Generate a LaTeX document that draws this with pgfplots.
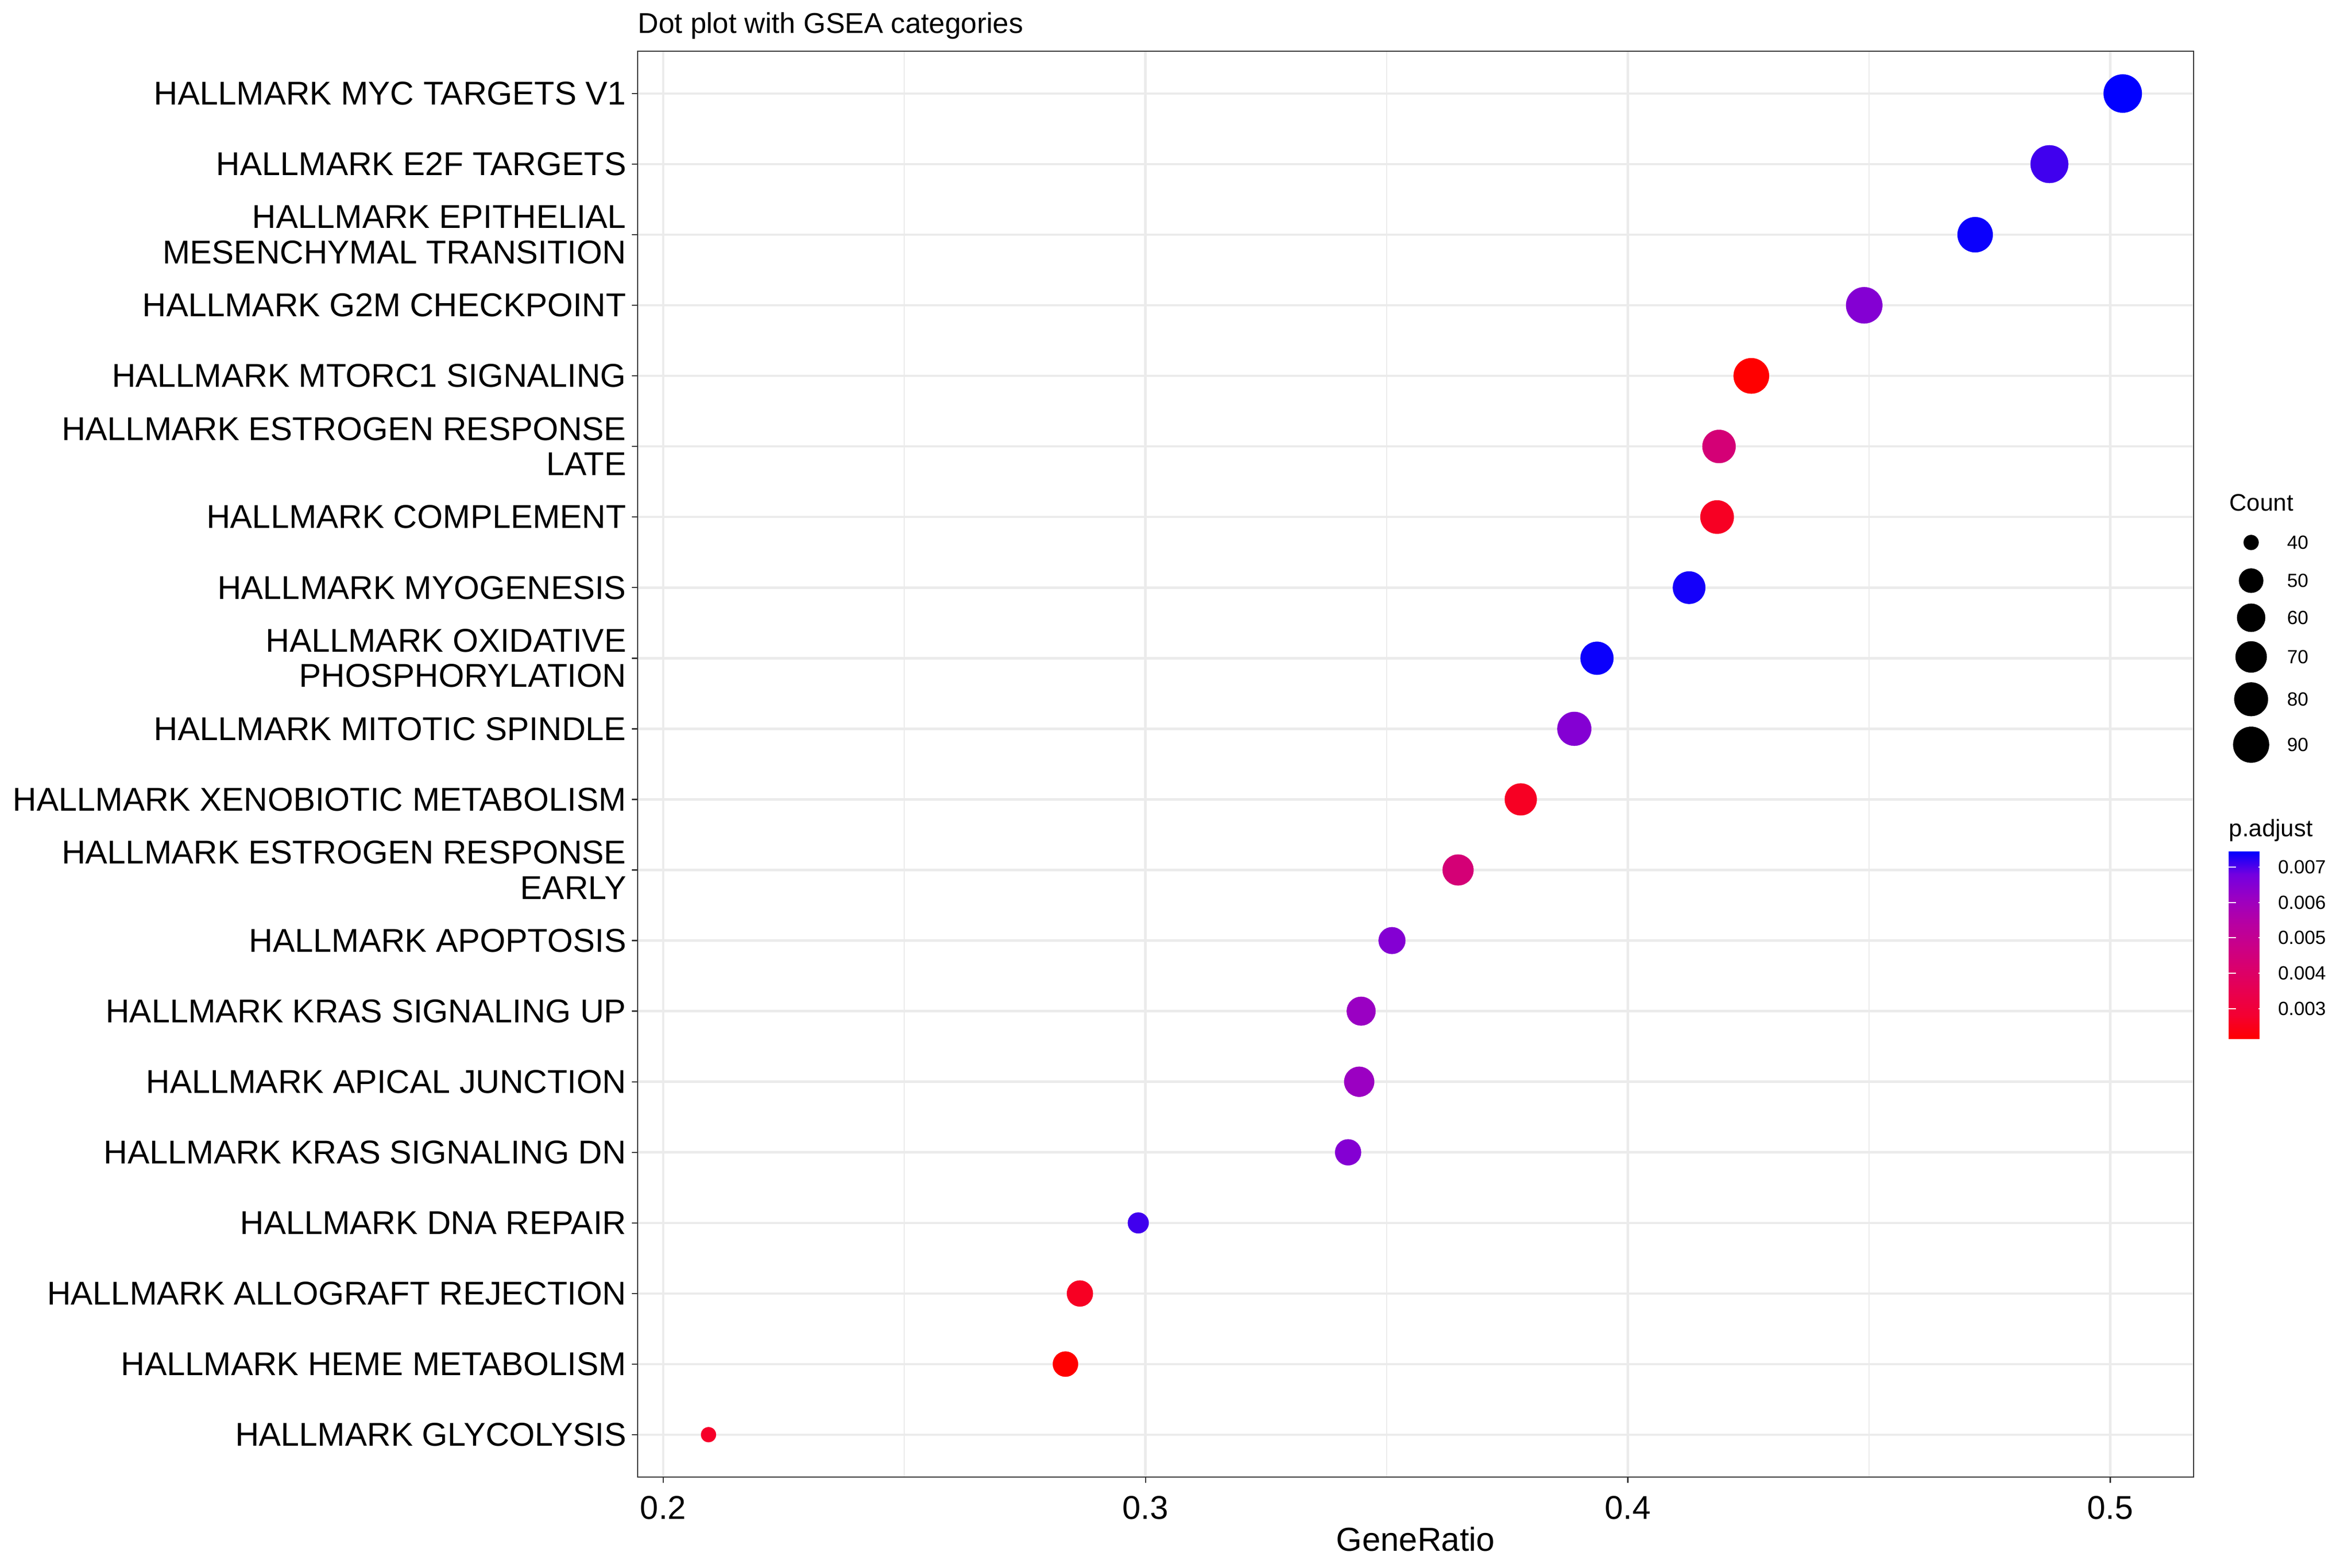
\documentclass[border=0pt]{standalone}
\usepackage{fontspec}
\setmainfont{Liberation Sans}
\usepackage{pgfplots}
\usepackage{pgfplotstable}
\pgfplotsset{compat=1.18}
\definecolor{tickgray}{HTML}{333333}
\definecolor{gridgray}{HTML}{EBEBEB}

\pgfplotstableread{
idx ratio count padj
20 0.5026 102 0.00746
19 0.4874 99 0.00709
18 0.4720 87 0.00740
17 0.4490 92 0.00650
16 0.4256 88 0.00214
15 0.4189 78 0.00437
14 0.4185 79 0.00262
13 0.4127 75 0.00735
12 0.3936 77 0.00740
11 0.3889 81 0.00650
10 0.3778 73 0.00262
9 0.3648 69 0.00437
8 0.3511 56 0.00650
7 0.3447 62 0.00613
6 0.3443 66 0.00610
5 0.3420 54 0.00650
4 0.2985 44 0.00709
3 0.2864 54 0.00262
2 0.2834 52 0.00214
1 0.2094 40 0.00270
}\gsea

\pgfplotstableread{
pos count
1038 40
1111 50
1182 60
1257 70
1338 80
1425 90
}\countlegend

\begin{document}
\begin{tikzpicture}
\useasboundingbox (-293.9pt,-41.9pt) rectangle (790.2pt,680.8pt);
\begin{axis}[
  name=main,
  at={(0,0)}, anchor=south west,
  scale only axis, width=717.2pt, height=657.2pt,
  xmin=0.1947, xmax=0.5173, ymin=0.4, ymax=20.6,
  xtick={0.2,0.3,0.4,0.5}, xticklabels={0.2,0.3,0.4,0.5},
  minor xtick={0.25,0.35,0.45},
  ytick={1,...,20},
  yticklabels={
    {HALLMARK GLYCOLYSIS},
    {HALLMARK HEME METABOLISM},
    {HALLMARK ALLOGRAFT REJECTION},
    {HALLMARK DNA REPAIR},
    {HALLMARK KRAS SIGNALING DN},
    {HALLMARK APICAL JUNCTION},
    {HALLMARK KRAS SIGNALING UP},
    {HALLMARK APOPTOSIS},
    {HALLMARK ESTROGEN RESPONSE\\EARLY},
    {HALLMARK XENOBIOTIC METABOLISM},
    {HALLMARK MITOTIC SPINDLE},
    {HALLMARK OXIDATIVE\\PHOSPHORYLATION},
    {HALLMARK MYOGENESIS},
    {HALLMARK COMPLEMENT},
    {HALLMARK ESTROGEN RESPONSE\\LATE},
    {HALLMARK MTORC1 SIGNALING},
    {HALLMARK G2M CHECKPOINT},
    {HALLMARK EPITHELIAL\\MESENCHYMAL TRANSITION},
    {HALLMARK E2F TARGETS},
    {HALLMARK MYC TARGETS V1}},
  xtick pos=bottom, ytick pos=left, tick align=outside,
  major tick length=2.75pt, minor tick length=0pt,
  tick style={color=tickgray, line width=0.55pt},
  axis line style={color=tickgray, line width=0.55pt},
  grid=both,
  major grid style={color=gridgray, line width=1.07pt},
  minor grid style={color=gridgray, line width=0.53pt},
  xticklabel style={font=\fontsize{15.2}{16}\selectfont, anchor=base, inner sep=0pt, yshift=-16.6pt},
  yticklabel style={font=\fontsize{15.2}{16.2}\selectfont, align=right, anchor=east, inner sep=0pt, xshift=-2.3pt},
  xlabel={GeneRatio},
  xlabel style={font=\fontsize{15.3}{18}\selectfont, at={(0.5,0)}, anchor=base, inner sep=0pt, yshift=-34pt},
  title={Dot plot with GSEA categories},
  title style={font=\fontsize{13.2}{15}\selectfont, at={(0,1)}, anchor=base west, inner sep=0pt, yshift=2.4pt},
  colormap={padj}{rgb255(0)=(255,0,0) rgb255(1)=(244,0,49) rgb255(2)=(232,0,79) rgb255(3)=(218,0,108) rgb255(4)=(201,0,137) rgb255(5)=(181,0,165) rgb255(6)=(154,0,195) rgb255(7)=(115,0,224) rgb255(8)=(0,0,255)},
  point meta min=0.00214, point meta max=0.00746,
  colorbar,
  colorbar style={
    at={(parent axis.north east)}, anchor=north west, xshift=7.6pt, yshift=-368.6pt,
    scale only axis, width=17.1pt, height=86.7pt,
    axis line style={draw=none},
    scaled y ticks=false,
    ytick={0.003,0.004,0.005,0.006,0.007},
    yticklabels={0.003,0.004,0.005,0.006,0.007},
    yticklabel pos=right, ytick pos=both,
    tick align=inside, major tick length=3.4pt,
    tick style={white, line width=0.5pt},
    yticklabel style={anchor=west, inner sep=0pt, xshift=5.5pt, font=\fontsize{8.8}{10}\selectfont, black},
    title={p.adjust},
    title style={at={(0,1)}, anchor=base west, inner sep=0pt, yshift=0.7pt, font=\fontsize{11}{13}\selectfont},
    axis on top,
  },
  clip=false,
]
\addplot[scatter, only marks, mark=*,
  point meta=explicit,
  mark options={line width=0.1pt},
  scatter/use mapped color={draw=mapped color, fill=mapped color},
  visualization depends on={3.45+0.6818*sqrt(\thisrow{count}-40) \as \rad},
  scatter/@pre marker code/.append style={/tikz/mark size=\rad},
] table[x=ratio, y=idx, meta=padj] {\gsea};
\end{axis}

\begin{axis}[
  at={(main.north east)}, anchor=north west, xshift=16.4pt, yshift=-217.3pt,
  scale only axis, width=20.2pt, height=110.8pt,
  xmin=-1, xmax=1, ymin=1000, ymax=1460, y dir=reverse,
  axis line style={draw=none},
  xtick=\empty,
  ytick={1038,1111,1182,1257,1338,1425},
  yticklabels={40,50,60,70,80,90},
  yticklabel pos=right, major tick length=0pt,
  yticklabel style={anchor=west, inner sep=0pt, xshift=6.3pt, font=\fontsize{8.8}{10}\selectfont},
  title={Count},
  title style={at={(0,1)}, anchor=base west, inner sep=0pt, yshift=-0.5pt, font=\fontsize{11}{13}\selectfont},
  clip=false,
]
\addplot[scatter, only marks, mark=*,
  mark options={line width=0.1pt},
  scatter/use mapped color={draw=black, fill=black},
  visualization depends on={3.45+0.6818*sqrt(\thisrow{count}-40) \as \rad},
  scatter/@pre marker code/.append style={/tikz/mark size=\rad},
] table[x expr=0, y=pos] {\countlegend};
\end{axis}
\end{tikzpicture}
\end{document}
